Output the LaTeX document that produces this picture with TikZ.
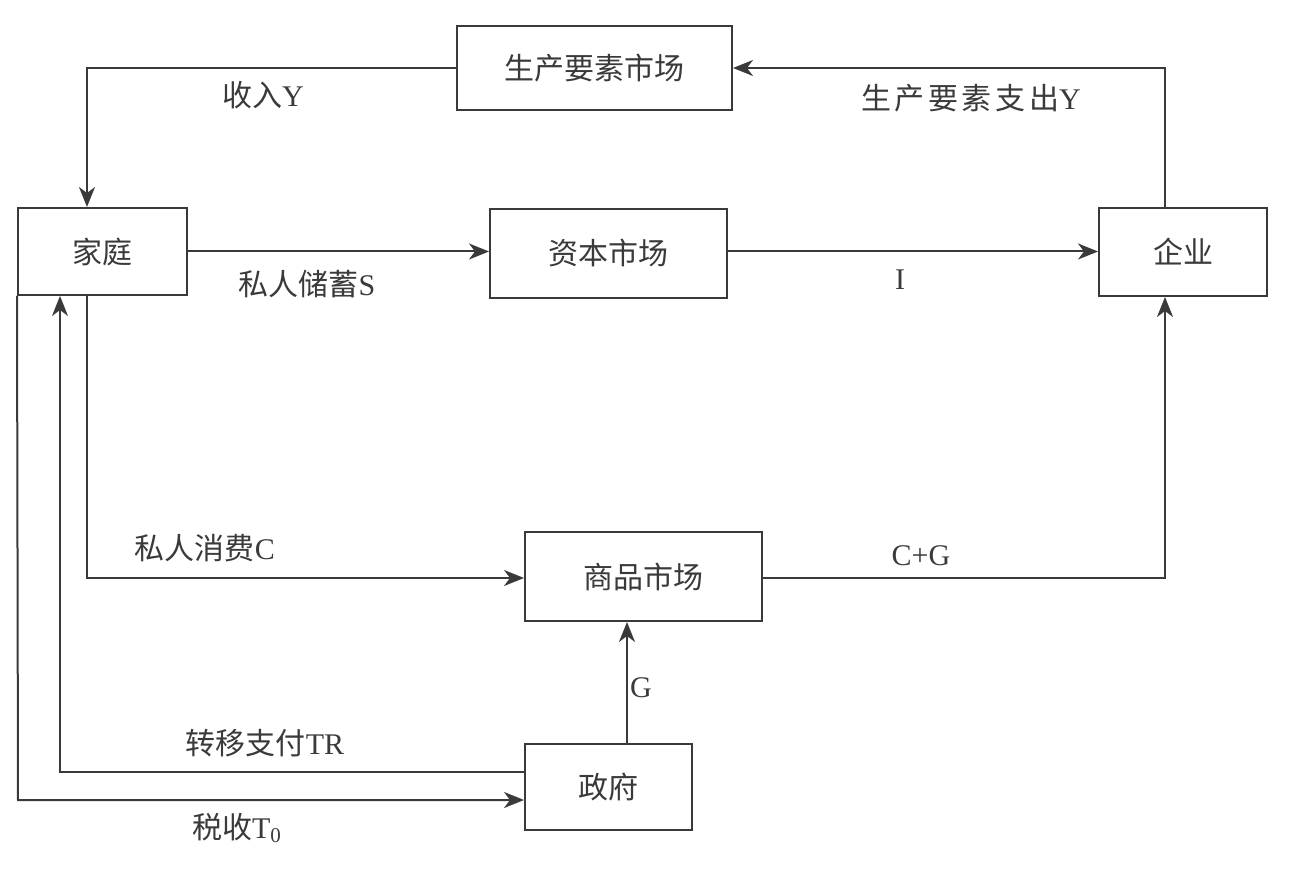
\documentclass[tikz,border=0pt]{standalone}
\usepackage{fontspec}
\setmainfont{Liberation Serif}
\newfontfamily\cjk{Noto Sans CJK SC}
\newfontfamily\cjkwide{Noto Sans CJK SC}[LetterSpace=12]
\usetikzlibrary{arrows.meta}
\definecolor{ink}{HTML}{3A3A3A}
\begin{document}
\begin{tikzpicture}[x=0.5pt,y=-0.5pt,
  box/.style={draw=ink,line width=1pt,fill=white,text=ink,font=\cjk\fontsize{15}{18}\selectfont,inner sep=0pt},
  flow/.style={draw=ink,line width=1pt,-{Stealth[length=10pt,width=8pt,inset=3pt]}},
  lbl/.style={text=ink,font=\cjk\fontsize{15}{18}\selectfont,inner sep=0pt}]
\useasboundingbox[fill=white] (0,0) rectangle (1300,881);
% boxes
\node[box,minimum width=137.5pt,minimum height=42pt] (fm) at (594.5,68) {生产要素市场};
\node[box,minimum width=84.5pt,minimum height=43.5pt] (hh) at (102.5,251.5) {家庭};
\node[box,minimum width=118.5pt,minimum height=44.5pt] (cm) at (608.5,253.5) {资本市场};
\node[box,minimum width=84pt,minimum height=44pt] (fi) at (1183,252) {企业};
\node[box,minimum width=118.5pt,minimum height=44.5pt] (gm) at (643.5,576.5) {商品市场};
\node[box,minimum width=83.5pt,minimum height=43pt] (gv) at (608.5,787) {政府};
% coordinates
\coordinate (a1) at (1165,68);
\coordinate (a2) at (87,68);
\coordinate (a3) at (87,578);
\coordinate (a4) at (1165,578);
\coordinate (a5) at (60,772);
\coordinate (a6) at (18,800);
% connectors
\draw[flow] (fi.north -| a1) -- (a1) -- (fm.east);
\draw[flow] (fm.west) -- (a2) -- (hh.north -| a2);
\draw[flow] (hh.east) -- (cm.west |- hh.east);
\draw[flow] (cm.east |- hh.east) -- (fi.west |- hh.east);
\draw[flow] (hh.south -| a3) -- (a3) -- (gm.west |- a3);
\draw[flow] (gm.east |- a4) -- (a4) -- (fi.south -| a4);
\draw[flow] (gv.north -| 627,0) -- (gm.south -| 627,0);
\draw[flow] (gv.west |- a5) -- (a5) -- (hh.south -| a5);
\draw[flow] (hh.south west) -- (a6) -- (gv.west |- a6);
% labels
\node[lbl] (l1) at (263,95) {收入{\rmfamily Y}};
\node[lbl,font=\cjkwide\fontsize{15}{18}\selectfont] (l2) at (971,98) {生产要素支出{\rmfamily Y}};
\node[lbl] (l3) at (307,284) {私人储蓄{\rmfamily S}};
\node[lbl] (l4) at (900,280) {\rmfamily I};
\node[lbl] (l5) at (205,548) {私人消费{\rmfamily C}};
\node[lbl] (l6) at (921,556) {\rmfamily C+G};
\node[lbl] (l7) at (641,688) {\rmfamily G};
\node[lbl] (l8) at (265,743) {转移支付{\rmfamily TR}};
\node[lbl] (l9) at (237,828) {税收{\rmfamily T\textsubscript{0}}};
\end{tikzpicture}
\end{document}
